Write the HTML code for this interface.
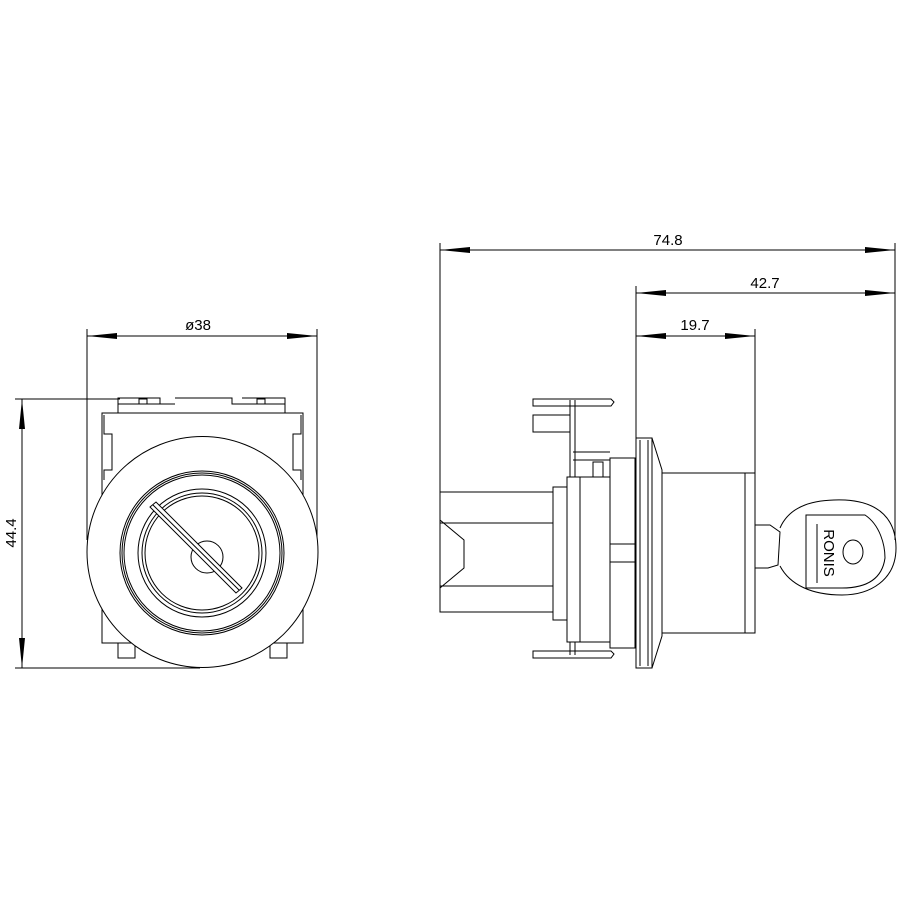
<!DOCTYPE html>
<html><head><meta charset="utf-8"><style>html,body{margin:0;padding:0;background:#fff}svg{display:block}</style></head>
<body>
<svg width="900" height="900" viewBox="0 0 900 900" xmlns="http://www.w3.org/2000/svg">
<g fill="#000" stroke="none">
<path d="M440,250 L470,247 L470,253 Z"/><path d="M895,250 L865,247 L865,253 Z"/>
<path d="M636,293 L666,290 L666,296 Z"/><path d="M895,293 L865,290 L865,296 Z"/>
<path d="M636,336 L666,333 L666,339 Z"/><path d="M755,336 L725,333 L725,339 Z"/>
<path d="M87,336 L117,333 L117,339 Z"/><path d="M317,336 L287,333 L287,339 Z"/>
<path d="M22,399 L19,429 L25,429 Z"/><path d="M22,668 L19,638 L25,638 Z"/>
</g>
<g stroke="#000" stroke-width="1" fill="none">
<!-- dims right -->
<line x1="440" y1="250" x2="895" y2="250"/>
<line x1="636" y1="293" x2="895" y2="293"/>
<line x1="636" y1="336" x2="755" y2="336"/>
<line x1="440" y1="243" x2="440" y2="492"/>
<line x1="895" y1="243" x2="895" y2="540"/>
<line x1="636" y1="286" x2="636" y2="438"/>
<line x1="755" y1="329" x2="755" y2="475"/>
<!-- dims left -->
<line x1="87" y1="336" x2="317" y2="336"/>
<line x1="87" y1="329" x2="87" y2="540"/>
<line x1="317" y1="329" x2="317" y2="540"/>
<line x1="22" y1="399" x2="22" y2="668"/>
<line x1="15" y1="399" x2="120" y2="399"/>
<line x1="15" y1="668" x2="200" y2="668"/>
<!-- front housing -->
<path d="M118,413 L118,398 L160,398 L160,404 L175,404 M175,398 L232,398 L232,404 L242,404 M242,398 L285,398 L285,413"/>
<line x1="118" y1="404" x2="160" y2="404"/><line x1="242" y1="404" x2="285" y2="404"/>
<rect x="139" y="399" width="8" height="5"/><rect x="257" y="399" width="8" height="5"/>
<path d="M102,413 L303,413 L303,643 L102,643 Z"/>
<path d="M104,415 L104,434 L112,434 L112,470 L104,470 L104,480 M301,415 L301,434 L293,434 L293,470 L301,470 L301,480"/>
<rect x="118" y="643" width="17" height="15"/><rect x="270" y="643" width="17" height="15"/>
<circle cx="202.5" cy="552" r="115.5" fill="#fff"/>
<circle cx="202" cy="553" r="82"/><circle cx="202" cy="553" r="80"/><circle cx="202" cy="553" r="78"/>
<circle cx="202" cy="553" r="64"/><circle cx="202" cy="553" r="60"/><circle cx="202" cy="553" r="57"/>
<circle cx="207" cy="557" r="16"/>
<path d="M150,507 L156,502 L242,588 L236,593 Z" fill="#fff"/>
<line x1="153" y1="505" x2="239" y2="590"/>
<!-- side view -->
<rect x="440" y="492" width="113" height="120"/>
<path d="M440,492 L440,520 L464,540 L464,568 L440,588 L440,612"/>
<line x1="440" y1="523" x2="553" y2="523"/><line x1="440" y1="586" x2="553" y2="586"/>
<rect x="553" y="487" width="14" height="133"/>
<rect x="567" y="477" width="43" height="165"/>
<line x1="580" y1="477" x2="580" y2="642"/>
<rect x="610" y="458" width="25" height="190"/>
<rect x="610" y="544" width="25" height="18"/>
<path d="M636,438 L652,438 L652,668 L636,668 Z"/>
<line x1="640" y1="440" x2="640" y2="666"/><line x1="648" y1="440" x2="648" y2="666"/>
<path d="M652,438 L662,470 L662,636 L652,668"/>
<rect x="662" y="473" width="93" height="160"/>
<line x1="745" y1="473" x2="745" y2="633"/>
<!-- pins -->
<path d="M533,399 L611,399 L614,402 L611,406 L533,406 Z"/>
<path d="M533,415 L570,415 L570,432 L533,432 Z"/>
<line x1="570" y1="400" x2="570" y2="477"/><line x1="575" y1="400" x2="575" y2="477"/>
<path d="M573,452 L610,452 M573,460 L610,460"/>
<rect x="593" y="462" width="10" height="15"/>
<path d="M533,651 L611,651 L614,654 L611,658 L533,658 Z"/>
<line x1="570" y1="642" x2="570" y2="655"/><line x1="575" y1="642" x2="575" y2="655"/>
<!-- key -->
<path d="M755,525 L770,525 L780,532 L778,565 L768,568 L755,568"/>
<path d="M780,528 C790,505 815,499 845,500 C880,502 896,520 896,548 C896,580 870,595 842,595 C812,595 790,585 780,566"/>
<path d="M806,515 L865,515 C880,525 885,545 885,558 C882,580 865,588 842,588 L806,588 Z"/>
<ellipse cx="853" cy="552" rx="10" ry="12"/>
<line x1="817" y1="524" x2="817" y2="583"/>
</g>
<g font-family="Liberation Sans, sans-serif" font-size="15" fill="#000" text-anchor="middle">
<text x="668" y="245">74.8</text>
<text x="765" y="288">42.7</text>
<text x="695" y="330">19.7</text>
<text x="198" y="330">ø38</text>
<text transform="translate(16,533) rotate(-90)">44.4</text>
<text transform="translate(824,553) rotate(90)" font-size="15">RONIS</text>
</g>
</svg>
</body></html>
